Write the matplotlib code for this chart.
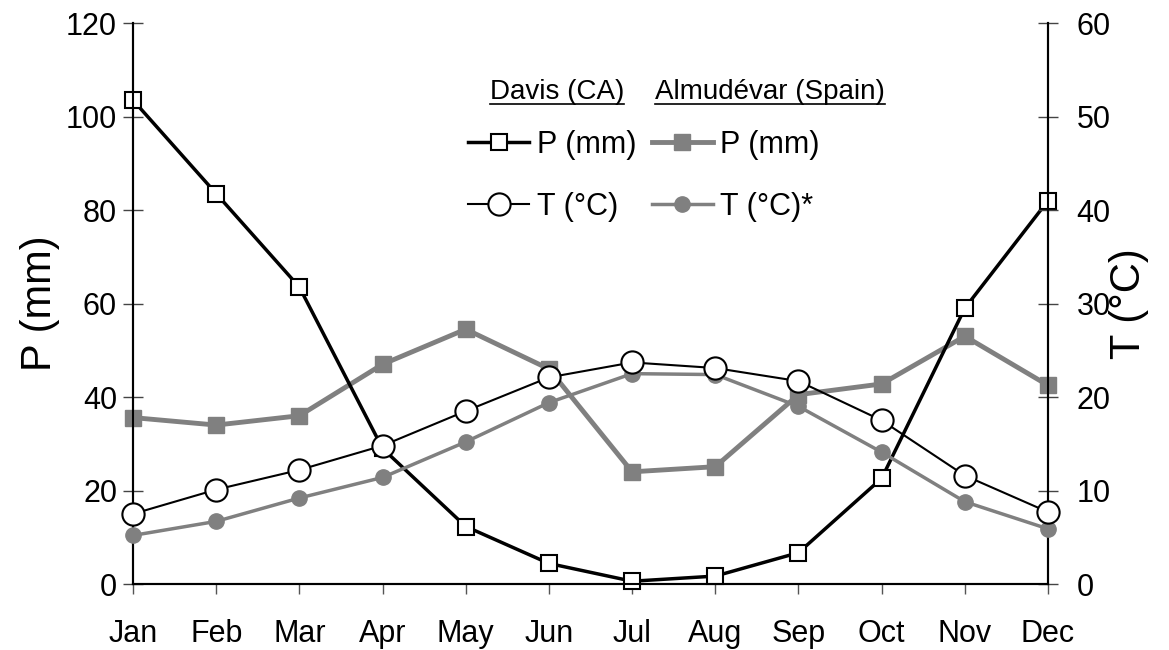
import numpy as np
import matplotlib
matplotlib.use("Agg")
import matplotlib.pyplot as plt
from matplotlib.lines import Line2D

plt.rcParams['font.family'] = ['Liberation Sans', 'DejaVu Sans']

months = ["Jan", "Feb", "Mar", "Apr", "May", "Jun", "Jul", "Aug", "Sep", "Oct", "Nov", "Dec"]

# precipitation (mm), left axis
davis_p = [103.5, 83.5, 63.5, 29.0, 12.3, 4.4, 0.6, 1.7, 6.7, 22.6, 59.0, 82.0]
almu_p = [35.6, 34.0, 36.0, 47.0, 54.5, 46.0, 24.0, 25.1, 40.5, 42.8, 53.0, 42.5]

# temperature (°C), right axis
davis_t = [7.5, 10.1, 12.2, 14.8, 18.5, 22.1, 23.7, 23.1, 21.7, 17.5, 11.6, 7.7]
almu_t = [5.2, 6.7, 9.2, 11.4, 15.2, 19.4, 22.5, 22.4, 19.0, 14.1, 8.8, 5.9]

GRAY = '#808080'
x = np.arange(len(months))

fig = plt.figure(figsize=(11.69, 6.5), dpi=100)
ax = fig.add_axes([0.1138, 0.1015, 0.7827, 0.8631])
ax2 = ax.twinx()

ax.plot(x, almu_p, color=GRAY, lw=3.5, marker='s', ms=11, mfc=GRAY, mec=GRAY,
        clip_on=False, zorder=3)
ax.plot(x, davis_p, color='black', lw=2.5, marker='s', ms=11, mfc='white', mec='black',
        mew=1.5, clip_on=False, zorder=4)
ax2.plot(x, almu_t, color=GRAY, lw=2.5, marker='o', ms=11, mfc=GRAY, mec=GRAY,
         clip_on=False, zorder=3)
ax2.plot(x, davis_t, color='black', lw=1.5, marker='o', ms=16, mfc='white', mec='black',
         mew=1.5, clip_on=False, zorder=4)

ax.set_xlim(0, 11)
ax.set_ylim(0, 120)
ax2.set_ylim(0, 60)
ax.set_yticks(np.arange(0, 121, 20))
ax2.set_yticks(np.arange(0, 61, 10))
ax.set_xticks(x)
ax.set_xticklabels(months)

for a in (ax, ax2):
    a.spines['top'].set_visible(False)
    for s in a.spines.values():
        s.set_linewidth(1.5)
ax.tick_params(axis='y', direction='inout', length=15, width=1, labelsize=22, pad=4,
               color='#444444')
ax2.tick_params(axis='y', direction='inout', length=15, width=1, labelsize=22, pad=13,
                color='#444444')
ax.tick_params(axis='x', direction='out', length=7, width=1, labelsize=22, pad=18,
               color='#555555')

ax.set_ylabel("P (mm)", fontsize=30, labelpad=4)
ax2.set_ylabel("T (°C)", fontsize=30, labelpad=-1)

# legend
handles = [
    Line2D([], [], color='black', lw=2.5, marker='s', ms=11, mfc='white', mec='black', mew=1.5),
    Line2D([], [], color='black', lw=1.5, marker='o', ms=16, mfc='white', mec='black', mew=1.5),
    Line2D([], [], color=GRAY, lw=3.5, marker='s', ms=11, mfc=GRAY, mec=GRAY),
    Line2D([], [], color=GRAY, lw=2.5, marker='o', ms=11, mfc=GRAY, mec=GRAY),
]
labels = ["P (mm)", "T (°C)", "P (mm)", "T (°C)*"]
leg = ax2.legend(handles, labels, ncol=2, frameon=False, fontsize=22,
                 loc='upper left', bbox_to_anchor=(468 / 1169, 1 - 130 / 650),
                 bbox_transform=fig.transFigure, borderpad=0, borderaxespad=0,
                 handlelength=2.0, handletextpad=0.25, columnspacing=0.5,
                 labelspacing=1.05)

headers = [("Davis (CA)", 490), ("Almudévar (Spain)", 655)]
fig.canvas.draw()
renderer = fig.canvas.get_renderer()
for txt, px in headers:
    t = fig.text(px / 1169, 1 - 92 / 650, txt, fontsize=20, va='center', ha='left')
    bb = t.get_window_extent(renderer)
    yline = 1 - 104 / 650
    fig.add_artist(Line2D([bb.x0 / 1169, bb.x1 / 1169], [yline, yline],
                          transform=fig.transFigure, color='black', lw=1.2))

fig.savefig("out.png", dpi=100)
